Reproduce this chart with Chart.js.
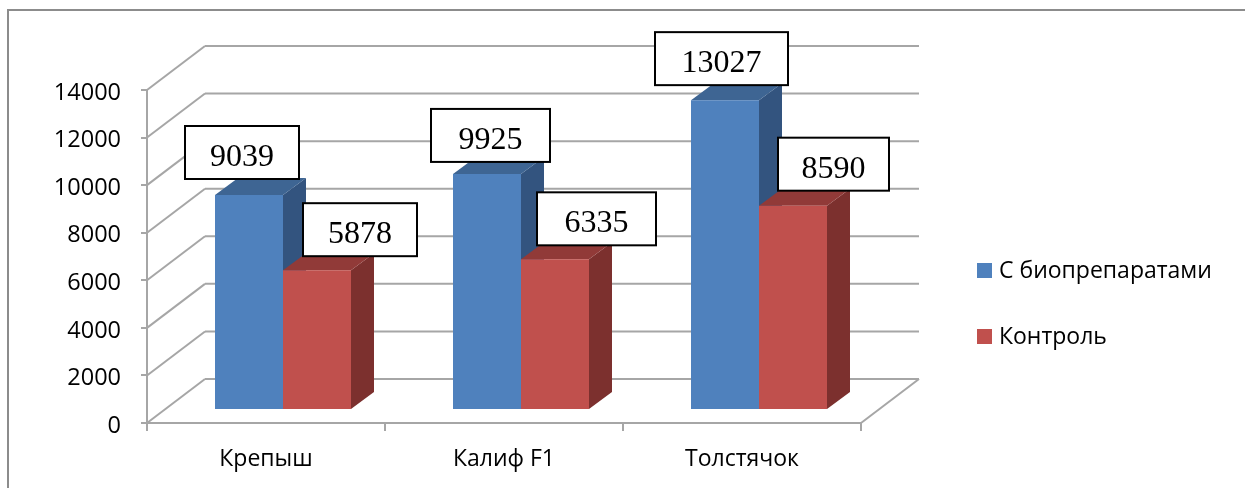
<!DOCTYPE html>
<html lang="ru">
<head>
<meta charset="utf-8">
<title>Урожайность</title>
<style>
  html, body { margin: 0; padding: 0; background: #fff; }
  canvas { display: block; }
</style>
<script src="https://cdn.jsdelivr.net/npm/chart.js@4"></script>
</head>
<body>
<canvas id="grafico" width="1245" height="488"></canvas>
<script>
const categorias = ['Крепыш', 'Калиф F1', 'Толстячок'];
const comBio = [9039, 9925, 13027];
const controle = [5878, 6335, 8590];
const eixoY = [0, 2000, 4000, 6000, 8000, 10000, 12000, 14000];

const AZUL = '#4f81bd';
const VERMELHO = '#c0504d';
const CINZA = '#a6a6a6';
const FONTE = '"Open Sans", sans-serif';

// perspectiva fake: parede do fundo e posição das barras dentro da caixa 3D
const PAREDE = { dx: 58, dy: 44 };
const BARRA_POS = { dx: 17, dy: 13 };
const BARRA_PROF = { dx: 23, dy: 17 };

const FACES = {
  [AZUL]: { lado: '#33547f', topo: '#3e6593' },
  [VERMELHO]: { lado: '#7c302e', topo: '#913a38' }
};

// caixas de valor foram arrastadas à mão no gráfico, por isso cada uma tem seu deslocamento
const CAIXAS = [
  [{ dx: -7, dy: -16, w: 114 }, { dx: 3.5, dy: -12, w: 119 }, { dx: -3.5, dy: -15, w: 133 }],
  [{ dx: 43, dy: -14, w: 114 }, { dx: 41.5, dy: -14, w: 119 }, { dx: 40.5, dy: -15, w: 111 }]
];
const CAIXA_ALTURA = 53;

function poligono(ctx, pontos, cor) {
  ctx.beginPath();
  pontos.forEach(([x, y], i) => (i ? ctx.lineTo(x, y) : ctx.moveTo(x, y)));
  ctx.closePath();
  ctx.fillStyle = cor;
  ctx.fill();
}

function linha(ctx, x1, y1, x2, y2) {
  ctx.beginPath();
  ctx.moveTo(x1, y1);
  ctx.lineTo(x2, y2);
  ctx.stroke();
}

const paredes = {
  id: 'paredes',
  beforeDatasetsDraw(chart) {
    const { ctx, chartArea: area, scales: { y } } = chart;

    // moldura, grades das paredes e piso
    ctx.save();
    ctx.strokeStyle = '#8c8c8c';
    ctx.lineWidth = 2;
    linha(ctx, 8, 488, 8, 10);
    linha(ctx, 7, 10, 1245, 10);

    ctx.strokeStyle = CINZA;
    eixoY.forEach(v => {
      const py = y.getPixelForValue(v);
      linha(ctx, area.left, py, area.left + PAREDE.dx, py - PAREDE.dy);
      linha(ctx, area.left + PAREDE.dx, py - PAREDE.dy, area.right + PAREDE.dx, py - PAREDE.dy);
    });
    linha(ctx, area.right, area.bottom, area.right + PAREDE.dx, area.bottom - PAREDE.dy);
    ctx.restore();

    // as barras ficam no meio do piso
    ctx.save();
    ctx.translate(BARRA_POS.dx, -BARRA_POS.dy);

    // lado e topo primeiro, azul antes do vermelho; a frente é do Chart.js
    chart.data.datasets.forEach((ds, d) => {
      chart.getDatasetMeta(d).data.forEach(bar => {
        const esq = bar.x - bar.width / 2;
        const dir = bar.x + bar.width / 2;
        poligono(ctx, [
          [dir, bar.y],
          [dir + BARRA_PROF.dx, bar.y - BARRA_PROF.dy],
          [dir + BARRA_PROF.dx, bar.base - BARRA_PROF.dy],
          [dir, bar.base]
        ], FACES[ds.backgroundColor].lado);
        poligono(ctx, [
          [esq, bar.y],
          [esq + BARRA_PROF.dx, bar.y - BARRA_PROF.dy],
          [dir + BARRA_PROF.dx, bar.y - BARRA_PROF.dy],
          [dir, bar.y]
        ], FACES[ds.backgroundColor].topo);
      });
    });
  },
  afterDatasetsDraw(chart) {
    const { ctx } = chart;
    ctx.restore();

    // caixas com os valores
    ctx.save();
    ctx.font = '32px "Liberation Serif", serif';
    ctx.textAlign = 'center';
    ctx.textBaseline = 'middle';
    chart.data.datasets.forEach((ds, d) => {
      chart.getDatasetMeta(d).data.forEach((bar, i) => {
        const c = CAIXAS[d][i];
        const cx = bar.x + BARRA_POS.dx + c.dx;
        const baixo = bar.y - BARRA_POS.dy + c.dy;
        ctx.fillStyle = '#fff';
        ctx.strokeStyle = '#000';
        ctx.lineWidth = 2;
        ctx.fillRect(cx - c.w / 2, baixo - CAIXA_ALTURA, c.w, CAIXA_ALTURA);
        ctx.strokeRect(cx - c.w / 2, baixo - CAIXA_ALTURA, c.w, CAIXA_ALTURA);
        ctx.fillStyle = '#000';
        ctx.fillText(String(ds.data[i]), cx, baixo - CAIXA_ALTURA / 2 + 5);
      });
    });
    ctx.restore();
  },
  // legenda à direita
  afterDraw(chart) {
    const { ctx } = chart;
    ctx.save();
    ctx.font = '23px ' + FONTE;
    ctx.textBaseline = 'middle';
    chart.data.datasets.forEach((ds, i) => {
      const y = 263 + i * 66;
      ctx.fillStyle = ds.backgroundColor;
      ctx.fillRect(977, y, 15, 15);
      ctx.fillStyle = '#000';
      ctx.fillText(ds.label, 999, y + 8);
    });
    ctx.restore();
  }
};

new Chart(document.getElementById('grafico'), {
  type: 'bar',
  plugins: [paredes],
  data: {
    labels: categorias,
    datasets: [
      { label: 'С биопрепаратами', data: comBio, backgroundColor: AZUL, clip: false },
      { label: 'Контроль', data: controle, backgroundColor: VERMELHO, clip: false }
    ]
  },
  options: {
    responsive: false,
    animation: false,
    layout: { padding: { top: 90, right: 384, bottom: 0, left: 0 } },
    plugins: { legend: { display: false }, tooltip: { enabled: false } },
    datasets: { bar: { categoryPercentage: 136 / 238, barPercentage: 1 } },
    scales: {
      x: {
        afterFit: s => { s.height = 65; },
        border: { color: CINZA, width: 2 },
        grid: { drawOnChartArea: false, color: CINZA, lineWidth: 2, tickLength: 8 },
        ticks: { color: '#000', padding: 15, font: { family: FONTE, size: 23 } }
      },
      y: {
        min: eixoY[0],
        max: eixoY[eixoY.length - 1],
        afterFit: s => { s.width = 147; },
        border: { color: CINZA, width: 2 },
        grid: { drawOnChartArea: false, color: CINZA, lineWidth: 2, tickLength: 6 },
        ticks: {
          stepSize: eixoY[1] - eixoY[0],
          color: '#000',
          padding: 20,
          labelOffset: 3,
          font: { family: FONTE, size: 23.5 },
          callback: v => String(v)
        }
      }
    }
  }
});
</script>
</body>
</html>
